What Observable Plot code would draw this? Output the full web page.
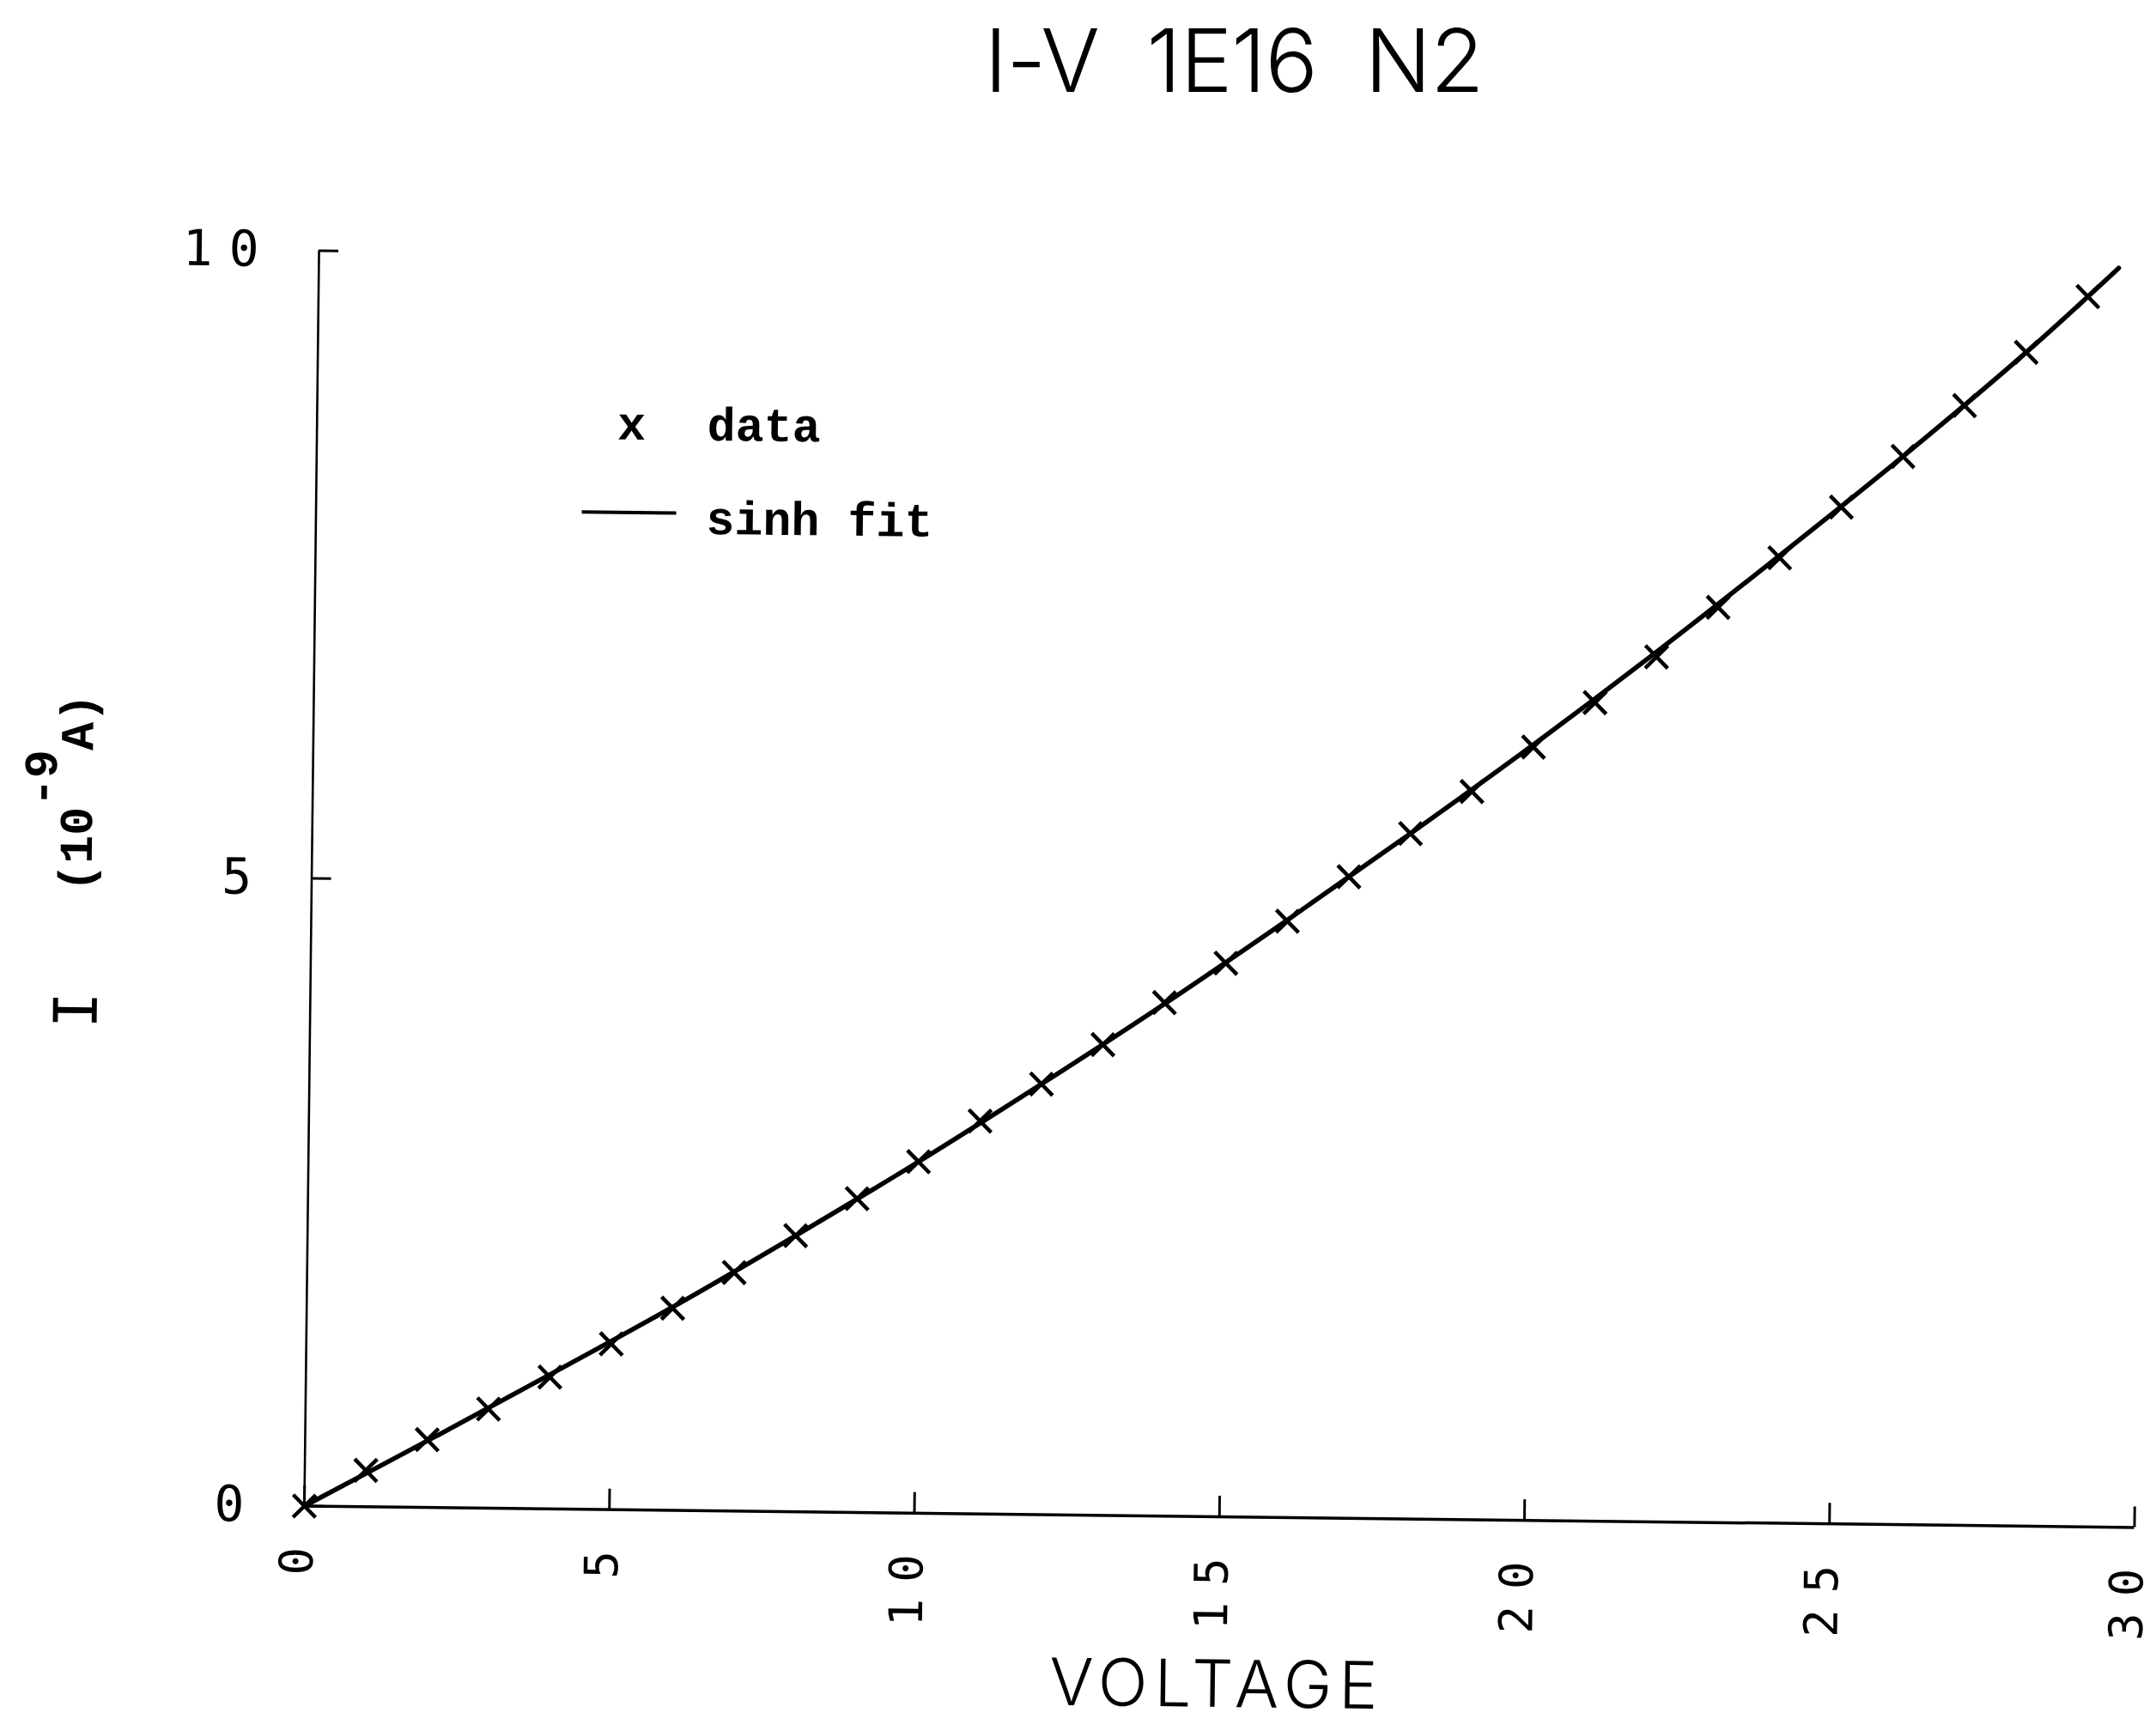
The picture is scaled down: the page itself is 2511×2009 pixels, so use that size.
<!DOCTYPE html>
<html>
<head>
<meta charset="utf-8">
<script src="https://cdn.jsdelivr.net/npm/d3@7"></script>
<script src="https://cdn.jsdelivr.net/npm/@observablehq/plot@0.6"></script>
<style>
  html, body { margin: 0; padding: 0; background: #fff; }
  body { width: 2511px; height: 2009px; overflow: hidden; position: relative; }
  #title {
    position: absolute; top: 19px; left: 0; width: 2874px;
    text-align: center; white-space: pre;
    font-family: Inter, "DejaVu Sans", sans-serif; font-weight: 300;
    font-size: 102px; line-height: 102px; color: #000;
    word-spacing: 28px; letter-spacing: -1px;
  }
  #chart { position: absolute; top: 130px; left: 0; }
</style>
</head>
<body>
<div id="title">I-V 1E16 N2</div>
<div id="chart"></div>
<script>
// Measured current (nA) at each bias voltage (V)
const volts = [0, 1, 2, 3, 4, 5, 6, 7, 8, 9, 10, 11, 12, 13, 14, 15, 16, 17, 18, 19, 20, 21, 22, 23, 24, 25, 26, 27, 28, 29];
const current = [0, 0.29, 0.54, 0.79, 1.05, 1.32, 1.61, 1.90, 2.20, 2.50, 2.80, 3.13, 3.43, 3.75, 4.09, 4.41, 4.75, 5.11, 5.46, 5.80, 6.16, 6.52, 6.89, 7.29, 7.69, 8.10, 8.51, 8.92, 9.35, 9.80];

// sinh fit curve, sampled along the voltage range
const fitVolts = [0, 2, 4, 6, 8, 10, 12, 14, 16, 18, 20, 22, 24, 26, 28, 29.5];
const fitCurrent = [0, 0.53, 1.07, 1.62, 2.20, 2.80, 3.43, 4.08, 4.76, 5.46, 6.18, 6.93, 7.71, 8.51, 9.35, 10.03];

// Axis ticks
const xDomain = [0, 30];
const yDomain = [0, 10];
const xTicks = [0, 5, 10, 15, 20, 25, 30];
const yTicks = [0, 5, 10];

// Text
const xTitle = "VOLTAGE";
const legendData = "data";
const legendFit = "sinh fit";

const plotterFont = "'DejaVu Sans Mono', monospace";
const typewriterFont = "'Liberation Mono', 'DejaVu Sans Mono', monospace";

const W = 2511, H = 1879;
const M = {left: 354, right: 25.4, top: 161.5, bottom: 255.5};
const pxPerVolt = (W - M.left - M.right) / (xDomain[1] - xDomain[0]);
const pxPerUnitI = (H - M.top - M.bottom) / (yDomain[1] - yDomain[0]);

const measured = volts.map((v, k) => ({v, i: current[k]}));
const fit = fitVolts.map((v, k) => ({v, i: fitCurrent[k]}));

const chart = Plot.plot({
  width: W,
  height: H,
  marginLeft: M.left,
  marginRight: M.right,
  marginTop: M.top,
  marginBottom: M.bottom,
  style: {fontFamily: plotterFont, background: "white", color: "black", overflow: "visible"},
  x: {domain: xDomain},
  y: {domain: yDomain},
  marks: [
    // axis lines
    Plot.ruleY([0], {strokeWidth: 3.5}),
    Plot.ruleX([0], {strokeWidth: 2.6}),
    // inward ticks
    Plot.ruleX(xTicks, {x: d => d, y1: () => 0, y2: () => 24 / pxPerUnitI, strokeWidth: 3}),
    Plot.ruleY(yTicks, {y: d => d, x1: () => 0, x2: () => 23 / pxPerVolt, strokeWidth: 3}),
    // tick labels
    Plot.axisX({ticks: xTicks, tickSize: 0, tickPadding: 29, tickRotate: -90, fontSize: 54, dx: -7, label: null}),
    Plot.axisY({ticks: yTicks, tickSize: 0, tickPadding: 51, fontSize: 58, label: null}),
    // fit and data
    Plot.line(fit, {x: "v", y: "i", curve: "catmull-rom", strokeWidth: 5.5}),
    Plot.dot(measured, {x: "v", y: "i", symbol: "times", r: 12, stroke: "black", strokeWidth: 4.5})
  ]
});

chart.style.transformOrigin = `${M.left}px ${H - M.bottom}px`;
chart.style.transform = "rotate(0.67deg)";
document.getElementById("chart").appendChild(chart);

const svg = d3.select(chart);
svg.selectAll('g[aria-label="x-axis tick label"] text, g[aria-label="y-axis tick label"] text')
  .attr("letter-spacing", 19);

const x0 = M.left, yBase = H - M.bottom;

// x-axis title
svg.append("text")
  .attr("x", (M.left + W - M.right) / 2)
  .attr("y", yBase + 222)
  .attr("text-anchor", "middle")
  .attr("font-family", "Inter, 'DejaVu Sans', sans-serif")
  .attr("font-weight", 300)
  .attr("font-size", 76)
  .attr("letter-spacing", 8)
  .text(xTitle);

// y-axis title: "I" then "(10^-9 A)"
svg.append("text")
  .attr("transform", `translate(${x0 - 248},${yBase - 574}) rotate(-90)`)
  .attr("text-anchor", "middle")
  .attr("font-family", plotterFont)
  .attr("font-size", 70)
  .text("I");

const unit = svg.append("text")
  .attr("transform", `translate(${x0 - 256},${yBase - 827}) rotate(-90)`)
  .attr("text-anchor", "middle")
  .attr("font-family", typewriterFont)
  .attr("font-weight", 700)
  .attr("font-size", 55);
unit.append("tspan").text("(10");
unit.append("tspan").attr("dy", -42).text("-9");
unit.append("tspan").attr("dy", 42).text("A)");

// legend inside the frame
const lg = svg.append("g")
  .attr("font-family", typewriterFont)
  .attr("font-weight", 700)
  .attr("font-size", 55)
  .attr("text-anchor", "start");
lg.append("text").attr("x", x0 + 367).attr("y", M.top + 216).attr("text-anchor", "middle").text("x");
lg.append("text").attr("x", x0 + 455).attr("y", M.top + 216).text(legendData);
lg.append("line")
  .attr("x1", x0 + 310).attr("x2", x0 + 420)
  .attr("y1", M.top + 301).attr("y2", M.top + 301)
  .attr("stroke", "black").attr("stroke-width", 4);
lg.append("text").attr("x", x0 + 455).attr("y", M.top + 325).text(legendFit);
</script>
</body>
</html>
